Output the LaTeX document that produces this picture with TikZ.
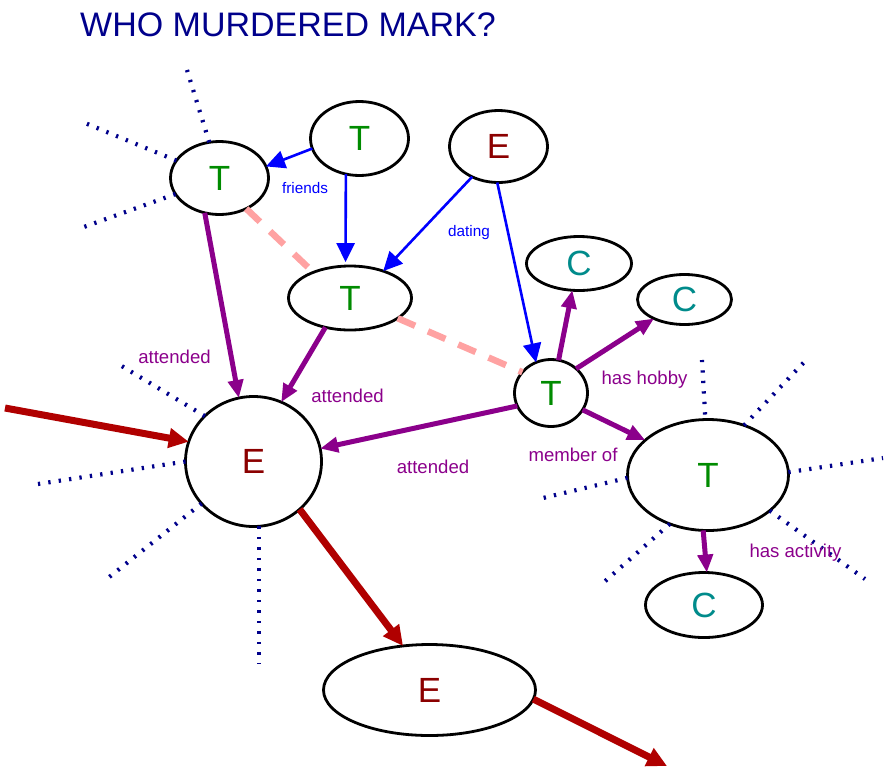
\documentclass[tikz,border=0pt]{standalone}
\usepackage{fontspec}
\setmainfont{Liberation Sans}
\usetikzlibrary{shapes.geometric,arrows.meta}
\definecolor{ttxt}{RGB}{0,139,0}
\definecolor{etxt}{RGB}{139,0,0}
\definecolor{ctxt}{RGB}{0,139,139}
\definecolor{navyc}{RGB}{0,0,139}
\definecolor{purp}{RGB}{139,0,139}
\definecolor{bluec}{RGB}{0,0,255}
\definecolor{darkr}{RGB}{176,0,0}
\definecolor{pinkc}{RGB}{255,162,162}
\tikzset{
  ell/.style={ellipse, draw=black, line width=2.8pt, inner sep=0pt, outer sep=0pt, font=\fontsize{35}{35}\selectfont},
  tnode/.style={ell, text=ttxt},
  enode/.style={ell, text=etxt},
  cnode/.style={ell, text=ctxt},
  bluearr/.style={draw=bluec, line width=2.6pt, -{Triangle[length=19pt,width=18pt]}},
  purparr/.style={draw=purp, line width=5pt, -{Triangle[length=18pt,width=15pt]}},
  redarr/.style={draw=darkr, line width=7pt, -{Triangle[length=20pt,width=19pt]}},
  pinkdash/.style={draw=pinkc, line width=6.5pt, dash pattern=on 19pt off 14pt},
  dotl/.style={draw=navyc, line width=4.2pt, dash pattern=on 2.3pt off 8.2pt},
  lblb/.style={text=bluec, inner sep=0pt, font=\fontsize{15.3}{15.3}\selectfont},
  lblp/.style={text=purp, inner sep=0pt, font=\fontsize{18.6}{18.6}\selectfont},
}
\begin{document}
\begin{tikzpicture}[x=1pt,y=-1pt]
\useasboundingbox (0,0) rectangle (891,769);
\node[anchor=base west, text=navyc, inner sep=0pt, font=\fontsize{34}{34}\selectfont] (title) at (80,36) {WHO MURDERED MARK?};
% nodes
\node[tnode, minimum width=98pt, minimum height=73pt] (T1) at (219.5,178) {T};
\node[tnode, minimum width=98pt, minimum height=74pt] (T2) at (359.5,138.5) {T};
\node[enode, minimum width=98pt, minimum height=72pt] (E1) at (498.5,146.5) {E};
\node[tnode, minimum width=123pt, minimum height=64pt] (Tm) at (350,298) {T};
\node[cnode, minimum width=105pt, minimum height=54pt] (C1) at (579,263.5) {C};
\node[cnode, minimum width=94pt, minimum height=50pt] (C2) at (684.5,299.5) {C};
\node[tnode, minimum width=73pt, minimum height=67pt] (Ts) at (551,393) {T};
\node[tnode, minimum width=161pt, minimum height=111pt] (Tb) at (708,475) {T};
\node[cnode, minimum width=117pt, minimum height=65pt] (Cb) at (704,605) {C};
\node[enode, minimum width=136pt, minimum height=130pt] (Eb) at (253.5,461.5) {E};
\node[enode, minimum width=212pt, minimum height=91pt] (Ed) at (429.5,690) {E};
% free ends
\coordinate (inL) at (5,408);
\coordinate (outR) at (667,766);
% dotted decorations
\draw[dotl] (T1.106) -- (187,70);
\draw[dotl] (T1.158) -- (85,123);
\draw[dotl] (T1.200) -- (81,228);
\draw[dotl] (Eb.137) -- (120,365);
\draw[dotl] (Eb.180) -- (38,484);
\draw[dotl] (Eb.219) -- (108,578);
\draw[dotl] (Eb.275) -- ++(0,137);
\draw[dotl] (Tb.93) ++(0,-5) -- (702,360);
\draw[dotl] (Tb.54) -- (808,358);
\draw[dotl] (Tb.2) -- (883,458);
\draw[dotl] (Tb.330) -- (865,579);
\draw[dotl] (Tb.232) -- (603,583);
\draw[dotl] (Tb.182) -- (543,498);
% pink dashed
\draw[pinkdash] (T1.311) -- (Tm.145);
\draw[pinkdash] (Tm.337) -- (Ts.144);
% blue
\draw[bluearr] (T2.192) -- (T1.14);
\draw[bluearr, shorten >=4pt] (T2.249) -- (Tm.98);
\draw[bluearr] (E1.229) -- (Tm.39);
\draw[bluearr] (E1.268) -- (Ts.116);
% purple
\draw[purparr] (T1.247) -- (Eb.103);
\draw[purparr] (Tm.230) -- (Eb.65);
\draw[purparr] (Ts.201) -- (Eb.11);
\draw[purparr] (Ts.77) -- (C1.256);
\draw[purparr] (Ts.44) -- (C2.212);
\draw[purparr] (Ts.332) -- (Tb.151);
\draw[purparr] (Tb.265) -- (Cb.85);
% dark red
\draw[redarr] (inL) -- (Eb.163);
\draw[redarr] (Eb.314) -- (Ed.121);
\draw[redarr] (Ed.355) -- (outR);
% labels
\node[lblb] (lfr) at (305,188) {friends};
\node[lblb] (ldt) at (469,233) {dating};
\node[lblp] (la1) at (174.5,357) {attended};
\node[lblp] (la2) at (347.5,396) {attended};
\node[lblp] (la3) at (433,467) {attended};
\node[lblp] (lhh) at (644.5,380) {has hobby};
\node[lblp] (lmo) at (573,455) {member of};
\node[lblp] (lha) at (795.5,553) {has activity};
\end{tikzpicture}
\end{document}
